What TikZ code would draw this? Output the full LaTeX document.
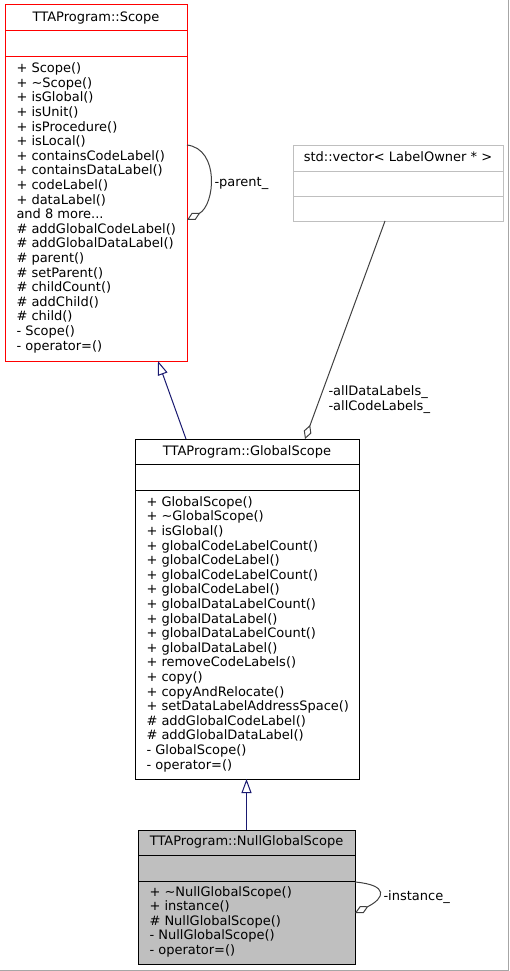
\documentclass[tikz,border=0pt]{standalone}
\usepackage{fontspec}
\setmainfont{DejaVu Sans}
\usepackage{tikz}
\usetikzlibrary{arrows.meta, calc, positioning}
\definecolor{edgenavy}{HTML}{191970}
\definecolor{edgegray}{HTML}{404040}
\definecolor{boxgray}{HTML}{BFBFBF}

\begin{document}
\begin{tikzpicture}[x=1pt, y=-1pt, line width=1pt,
    classbox/.style={draw, anchor=north west, inner sep=0pt, outer sep=0pt},
    classname/.style={anchor=base, inner sep=0pt, font=\fontsize{13}{14.6}\selectfont},
    member/.style={anchor=base west, align=left, inner sep=0pt, font=\fontsize{13}{14.6}\selectfont},
    edgelabel/.style={anchor=west, align=left, inner sep=0pt, font=\fontsize{13}{14.6}\selectfont},
    inherit/.style={draw=edgenavy, -{Triangle[open, length=14pt, width=10pt]}},
    aggreg/.style={draw=edgegray, -{Diamond[open, length=15pt, width=8pt]}}]

        \useasboundingbox (0,0) rectangle (509,971);

        % Khung ngoai
        \draw[gray!70] (508.5,0) -- (508.5,970.5); % Canh phai
        \draw[gray!70] (0,970.5) -- (508.5,970.5); % Canh duoi

        % Lop TTAProgram::Scope
        \node[classbox, draw=red, minimum width=182pt, minimum height=356pt] (scope) at (5,5) {};
        \node[classname] (scopetitle) at ([yshift=-16.5pt]scope.north) {TTAProgram::Scope};
        \draw[red] ([yshift=-26pt]scope.north west) -- ([yshift=-26pt]scope.north east);
        \draw[red] ([yshift=-52pt]scope.north west) -- ([yshift=-52pt]scope.north east);
        \node[member] (scopeops) at ([xshift=11pt, yshift=11pt]scope.south west) {+ Scope()\\+ \textasciitilde Scope()\\+ isGlobal()\\+ isUnit()\\+ isProcedure()\\+ isLocal()\\+ containsCodeLabel()\\+ containsDataLabel()\\+ codeLabel()\\+ dataLabel()\\and 8 more...\\\# addGlobalCodeLabel()\\\# addGlobalDataLabel()\\\# parent()\\\# setParent()\\\# childCount()\\\# addChild()\\\# child()\\- Scope()\\- operator=()};

        % Lop std::vector
        \node[classbox, draw=boxgray, minimum width=210pt, minimum height=76pt] (vec) at (293,145) {};
        \node[classname] (vectitle) at ([yshift=-16.5pt]vec.north) {std::vector< LabelOwner * >};
        \draw[boxgray] ([yshift=-26pt]vec.north west) -- ([yshift=-26pt]vec.north east);
        \draw[boxgray] ([yshift=-51pt]vec.north west) -- ([yshift=-51pt]vec.north east);

        % Lop TTAProgram::GlobalScope
        \node[classbox, minimum width=224pt, minimum height=340pt] (glob) at (135,439) {};
        \node[classname] (globtitle) at ([yshift=-16.5pt]glob.north) {TTAProgram::GlobalScope};
        \draw ([yshift=-25pt]glob.north west) -- ([yshift=-25pt]glob.north east);
        \draw ([yshift=-51pt]glob.north west) -- ([yshift=-51pt]glob.north east);
        \node[member] (globops) at ([xshift=11pt, yshift=10pt]glob.south west) {+ GlobalScope()\\+ \textasciitilde GlobalScope()\\+ isGlobal()\\+ globalCodeLabelCount()\\+ globalCodeLabel()\\+ globalCodeLabelCount()\\+ globalCodeLabel()\\+ globalDataLabelCount()\\+ globalDataLabel()\\+ globalDataLabelCount()\\+ globalDataLabel()\\+ removeCodeLabels()\\+ copy()\\+ copyAndRelocate()\\+ setDataLabelAddressSpace()\\\# addGlobalCodeLabel()\\\# addGlobalDataLabel()\\- GlobalScope()\\- operator=()};

        % Lop TTAProgram::NullGlobalScope
        \node[classbox, fill=boxgray, minimum width=217pt, minimum height=134pt] (null) at (138,830) {};
        \node[classname] (nulltitle) at ([yshift=-15.5pt]null.north) {TTAProgram::NullGlobalScope};
        \draw ([yshift=-25pt]null.north west) -- ([yshift=-25pt]null.north east);
        \draw ([yshift=-51pt]null.north west) -- ([yshift=-51pt]null.north east);
        \node[member] (nullops) at ([xshift=11pt, yshift=9.5pt]null.south west) {+ \textasciitilde NullGlobalScope()\\+ instance()\\\# NullGlobalScope()\\- NullGlobalScope()\\- operator=()};

        % Ke thua
        \draw[inherit] ([xshift=-61pt]glob.north) -- ([xshift=62pt]scope.south);
        \draw[inherit] (null.north) -- (null.north |- glob.south);

        % Thanh phan
        \draw[aggreg] ([xshift=-13pt]vec.south) -- ([xshift=58pt]glob.north);
        \node[edgelabel] (veclabel) at ([xshift=81pt, yshift=39.5pt]glob.north) {-allDataLabels\_\\-allCodeLabels\_};
        \draw[aggreg] ([yshift=38pt]scope.east) .. controls +(33,4) and +(28,-15) .. ([yshift=-37pt]scope.east);
        \node[edgelabel] (parentlabel) at ([xshift=27pt]scope.east) {-parent\_};
        \draw[aggreg] ([yshift=15pt]null.east) .. controls +(34,3) and +(30,-15) .. ([yshift=-16pt]null.east);
        \node[edgelabel] (instancelabel) at ([xshift=28pt]null.east) {-instance\_};

\end{tikzpicture}
\end{document}
